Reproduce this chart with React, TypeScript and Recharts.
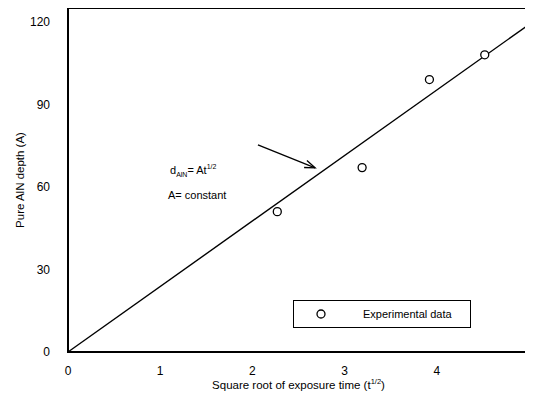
import {
  ComposedChart,
  Line,
  Scatter,
  XAxis,
  YAxis,
  ReferenceLine,
  Label,
} from "recharts";

const xTicks = [0, 1, 2, 3, 4, 5];
const yTicks = [0, 30, 60, 90, 120];
const xMax = 5;
const yMax = 125;

// sqrt(t) vs depth
const expX = [2.27, 3.19, 3.92, 4.52];
const expY = [51, 67, 99, 108];

const fitX = [0, 5];
const fitY = [0, 119];

const expData = expX.map((x, i) => ({ x, y: expY[i] }));
const fitData = fitX.map((x, i) => ({ x, fit: fitY[i] }));

const font = "'Liberation Sans', Arial, sans-serif";

const W = 533;
const H = 407;
const M = { top: 8, right: 4, left: 0, bottom: 0 };
const yAxisW = 68;
const xAxisH = 55;

const OpenCircle = (props: any) => {
  const { cx, cy } = props;
  return <circle cx={cx} cy={cy} r={4} fill="#fff" stroke="#000" strokeWidth={1.3} />;
};

const Arrow = (props: any) => {
  const { x1, y1, x2, y2 } = props;
  const ang = Math.atan2(y2 - y1, x2 - x1);
  const len = 11;
  const a1 = ang + Math.PI - 0.35;
  const a2 = ang + Math.PI + 0.35;
  return (
    <g>
      <line x1={x1} y1={y1} x2={x2} y2={y2} stroke="#000" strokeWidth={1.3} />
      <path
        d={`M${x2 + len * Math.cos(a1)},${y2 + len * Math.sin(a1)} L${x2},${y2} L${x2 + len * Math.cos(a2)},${y2 + len * Math.sin(a2)}`}
        fill="none"
        stroke="#000"
        strokeWidth={1.3}
      />
    </g>
  );
};

const XTitle = (props: any) => {
  const { viewBox } = props;
  const cx = viewBox.x + viewBox.width / 2;
  return (
    <text x={cx} y={389} textAnchor="middle" fontSize={11.5} fontFamily={font} fill="#000">
      Square root of exposure time (t
      <tspan fontSize={7.5} dy={-5}>1/2</tspan>
      <tspan dy={5}>)</tspan>
    </text>
  );
};

const LegendBox = () => (
  <div
    style={{
      position: "absolute",
      left: 293,
      top: 300,
      width: 178,
      height: 28,
      border: "1.3px solid #000",
      background: "#fff",
      fontFamily: font,
      fontSize: 11,
      display: "flex",
      alignItems: "center",
      boxSizing: "border-box",
    }}
  >
    <svg width={60} height={20}>
      <circle cx={27} cy={10} r={4} fill="#fff" stroke="#000" strokeWidth={1.3} />
    </svg>
    <span style={{ marginLeft: 9 }}>Experimental data</span>
  </div>
);

// plot frame, drawn in its own svg layer over the chart
const Frame = () => {
  const x = M.left + yAxisW;
  const y = M.top;
  const w = W - M.left - M.right - yAxisW;
  const h = H - M.top - M.bottom - xAxisH;
  return (
    <svg
      width={W}
      height={H}
      style={{ position: "absolute", left: 0, top: 0, pointerEvents: "none", zIndex: 5 }}
    >
      <rect x={x} y={y} width={w} height={h} fill="none" stroke="#000" strokeWidth={2} />
    </svg>
  );
};

export default function App() {
  return (
    <div style={{ position: "relative", margin: -8, width: W, height: H, background: "#fff" }}>
      <ComposedChart width={W} height={H} margin={M}>
        <XAxis
          xAxisId="b"
          dataKey="x"
          type="number"
          domain={[0, xMax]}
          ticks={xTicks}
          allowDuplicatedCategory={false}
          tickLine={false}
          axisLine={{ stroke: "#000", strokeWidth: 1.5 }}
          tick={{ fontSize: 12, fill: "#000", fontFamily: font }}
          tickMargin={8}
          height={xAxisH}
        >
          <Label content={<XTitle />} />
        </XAxis>
        <YAxis
          yAxisId="l"
          type="number"
          domain={[0, yMax]}
          ticks={yTicks}
          tickLine={false}
          axisLine={{ stroke: "#000", strokeWidth: 1.5 }}
          tick={{ fontSize: 12, fill: "#000", fontFamily: font }}
          tickMargin={12}
          width={yAxisW}
        >
          <Label
            value="Pure AlN depth (A)"
            angle={-90}
            position="insideLeft"
            offset={20}
            style={{ fontSize: 11.5, fill: "#000", fontFamily: font, textAnchor: "middle" }}
          />
        </YAxis>
        <Line
          xAxisId="b"
          yAxisId="l"
          data={fitData}
          dataKey="fit"
          type="linear"
          stroke="#000"
          strokeWidth={1.4}
          dot={false}
          isAnimationActive={false}
        />
        <Scatter
          xAxisId="b"
          yAxisId="l"
          data={expData}
          dataKey="y"
          shape={<OpenCircle />}
          isAnimationActive={false}
        />
        <ReferenceLine
          xAxisId="b"
          yAxisId="l"
          segment={[
            { x: 2.06, y: 75.3 },
            { x: 2.68, y: 66.9 },
          ]}
          shape={<Arrow />}
        />
      </ComposedChart>
      <Frame />
      <div style={{ position: "absolute", left: 170, top: 160, fontFamily: font, fontSize: 11, lineHeight: "14px" }}>
        d<sub style={{ fontSize: 7 }}>AlN</sub>= At<sup style={{ fontSize: 7 }}>1/2</sup>
      </div>
      <div style={{ position: "absolute", left: 168, top: 189, fontFamily: font, fontSize: 11 }}>
        A= constant
      </div>
      <LegendBox />
    </div>
  );
}
